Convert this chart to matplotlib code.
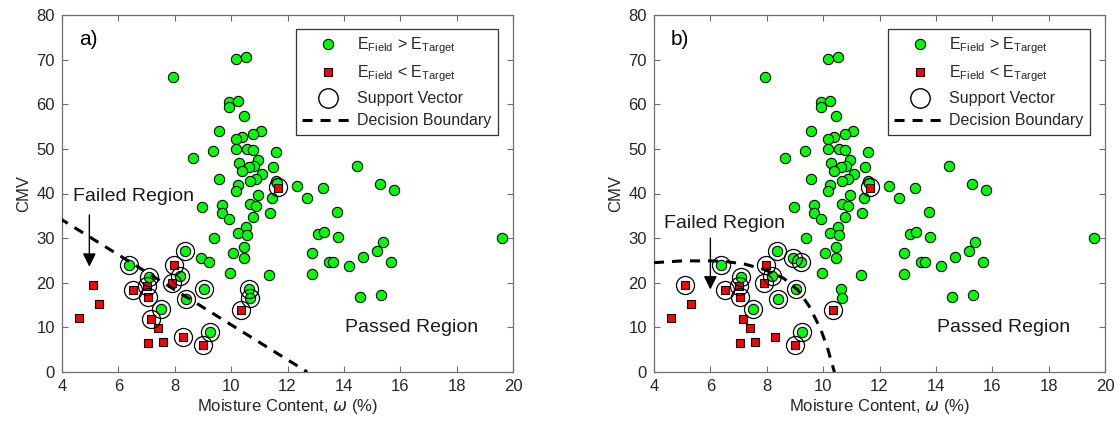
import matplotlib
matplotlib.use("Agg")
import matplotlib.pyplot as plt
from matplotlib.lines import Line2D

plt.rcParams['font.family'] = ['Liberation Sans', 'DejaVu Sans']
plt.rcParams['mathtext.fontset'] = 'dejavusans'

# ---------------- data ----------------
green_x = [7.95, 10.16, 10.52, 9.92, 10.25, 9.92, 10.47, 9.57, 11.06, 10.76,
           10.37, 10.17, 9.37, 8.66, 10.17, 10.57, 10.79, 11.58, 10.96, 10.28,
           10.82, 10.63, 11.47, 10.37, 11.08, 10.88, 9.57, 10.67, 10.26, 11.58,
           11.64, 12.32, 10.17, 10.96, 11.46, 12.68, 8.98, 9.66, 9.66, 9.92,
           10.67, 10.87, 11.38, 10.76, 10.53, 10.26, 10.57, 9.39, 10.47, 10.08,
           10.47, 8.93, 9.21, 9.96, 11.34,
           14.48, 13.27, 15.28, 15.78, 13.77, 13.07, 13.29, 13.78, 19.60, 15.40,
           15.19, 12.87, 14.69, 13.46, 13.62, 15.68, 14.17, 12.87, 14.57, 15.31,
           6.39, 7.07, 7.51, 8.19, 8.37, 8.40, 9.04, 9.25, 10.64, 10.67]
green_y = [66.0, 70.2, 70.6, 60.4, 60.8, 59.3, 57.4, 54.1, 54.0, 53.4,
           52.6, 52.2, 49.6, 47.9, 49.9, 50.0, 49.8, 49.3, 47.5, 46.9,
           46.2, 45.9, 45.9, 45.1, 44.4, 43.3, 43.3, 42.9, 41.9, 42.9,
           42.3, 41.7, 40.6, 39.6, 39.0, 39.0, 37.0, 37.4, 35.6, 34.2,
           37.7, 37.3, 35.7, 34.8, 32.4, 31.2, 30.6, 30.0, 27.9, 26.6,
           25.6, 25.6, 24.6, 22.1, 21.7,
           46.2, 41.3, 42.2, 40.7, 35.9, 30.9, 31.3, 30.3, 30.0, 29.1,
           27.2, 26.7, 25.7, 24.6, 24.6, 24.7, 23.8, 21.9, 16.9, 17.3,
           24.0, 21.2, 14.1, 21.6, 27.2, 16.4, 18.6, 8.9, 18.7, 16.5]

red_x = [5.11, 5.32, 4.59, 6.53, 7.00, 7.06, 7.15, 7.39, 7.04, 7.57,
         7.97, 7.89, 8.30, 8.99, 10.35, 11.68]
red_y = [19.5, 15.2, 12.2, 18.4, 19.3, 16.9, 11.8, 9.8, 6.4, 6.7,
         24.0, 20.0, 7.9, 6.1, 13.9, 41.2]

# support vectors, panel a
sv_a_x = [6.39, 7.07, 7.51, 8.19, 8.37, 8.40, 9.04, 9.25, 10.64, 10.67,
          6.53, 7.00, 7.06, 7.15, 7.97, 7.89, 8.30, 8.99, 10.35, 11.66]
sv_a_y = [24.0, 21.2, 14.1, 21.6, 27.2, 16.4, 18.6, 8.9, 18.7, 16.5,
          18.4, 19.3, 16.9, 11.8, 24.0, 20.0, 7.9, 6.1, 13.9, 41.5]
# support vectors, panel b
sv_b_x = [6.39, 7.07, 7.51, 8.19, 8.37, 8.40, 9.04, 9.25, 8.93, 9.21,
          5.11, 6.53, 7.00, 7.06, 7.97, 7.89, 8.99, 10.35, 11.66]
sv_b_y = [24.0, 21.2, 14.1, 21.6, 27.2, 16.4, 18.6, 8.9, 25.6, 24.6,
          19.5, 18.4, 19.3, 16.9, 24.0, 20.0, 6.1, 13.9, 41.5]

# decision boundaries
boundary_a_x = [3.9, 12.7]
boundary_a_y = [34.5, 0.0]
boundary_b_x = [4.0, 5.0, 6.0, 6.5, 7.2, 7.9, 8.6, 9.1, 9.5, 9.9, 10.15, 10.4]
boundary_b_y = [24.5, 24.9, 24.9, 24.8, 24.2, 23.0, 21.0, 18.4, 14.8, 9.8, 5.5, 0.0]

panel_labels = ['a)', 'b)']
x_ticks = [4, 6, 8, 10, 12, 14, 16, 18, 20]
y_ticks = [0, 10, 20, 30, 40, 50, 60, 70, 80]

# ---------------- plotting ----------------
W, H = 1116, 425
fig = plt.figure(figsize=(W / 100, H / 100), dpi=100)
ax_a = fig.add_axes([62 / W, 1 - 372 / H, 451 / W, 357 / H])
ax_b = fig.add_axes([654 / W, 1 - 372 / H, 451 / W, 357 / H])

txt = '#262626'
spine_c = '#6e6e6e'
green = '#00ff00'
red = '#ff0000'
dash = (0, (3.3, 2.6))

setups = [
    (ax_a, sv_a_x, sv_a_y, boundary_a_x, boundary_a_y, (6.53, 39.3), (4.97, 35.2), (4.97, 23.6)),
    (ax_b, sv_b_x, sv_b_y, boundary_b_x, boundary_b_y, (6.50, 33.2), (6.0, 30.0), (6.0, 18.5)),
]

for i, (ax, svx, svy, bx, by, ftxt, arr0, arr1) in enumerate(setups):
    ax.plot(green_x, green_y, linestyle='none', marker='o', ms=7.4,
            mfc=green, mec='black', mew=0.8, zorder=3)
    ax.plot(red_x, red_y, linestyle='none', marker='s', ms=5.4,
            mfc=red, mec='black', mew=0.8, zorder=3)
    ax.plot(svx, svy, linestyle='none', marker='o', ms=13, mfc='none',
            mec='black', mew=0.9, zorder=4)
    ax.plot(bx, by, color='black', lw=2.2, linestyle=dash, zorder=5,
            clip_on=True)

    ax.set_xlim(4, 20)
    ax.set_ylim(0, 80)
    ax.set_xticks(x_ticks)
    ax.set_yticks(y_ticks)
    ax.tick_params(direction='in', length=4, width=0.8, colors=spine_c,
                   labelcolor=txt, labelsize=12, top=True, right=True, pad=5)
    for s in ax.spines.values():
        s.set_color(spine_c)
        s.set_linewidth(0.9)
    ax.set_xlabel(r'Moisture Content, $\omega$ (%)', fontsize=12, color=txt,
                  labelpad=2)
    ax.set_ylabel('CMV', fontsize=12, color=txt, labelpad=4)

    ax.text(4.6, 74.6, panel_labels[i], fontsize=15, color='black',
            va='center', ha='left')
    ax.text(16.4, 9.9, 'Passed Region', fontsize=14, color='#1a1a1a',
            ha='center', va='center')
    ax.text(ftxt[0], ftxt[1], 'Failed Region', fontsize=14, color='#1a1a1a',
            ha='center', va='center')
    ax.annotate('', xy=arr1, xytext=arr0,
                arrowprops=dict(arrowstyle='-|>', color='black', lw=1,
                                mutation_scale=20, shrinkA=0, shrinkB=0))

    handles = [
        Line2D([], [], linestyle='none', marker='o', ms=7.4, mfc=green,
               mec='black', mew=0.8),
        Line2D([], [], linestyle='none', marker='s', ms=5.4, mfc=red,
               mec='black', mew=0.8),
        Line2D([], [], linestyle='none', marker='o', ms=14, mfc='none',
               mec='black', mew=1.0),
        Line2D([], [], color='black', lw=2.2, linestyle=dash),
    ]
    labels = [r'E$_{\mathregular{Field}}$ > E$_{\mathregular{Target}}$',
              r'E$_{\mathregular{Field}}$ < E$_{\mathregular{Target}}$',
              'Support Vector', 'Decision Boundary']
    leg = ax.legend(handles, labels, loc='upper right',
                    bbox_to_anchor=(0.967, 0.96), borderaxespad=0,
                    fontsize=11.5, handlelength=3.25, handletextpad=0.2,
                    borderpad=0.4, labelspacing=0.45, fancybox=False,
                    framealpha=1, edgecolor='#333333')
    leg.get_frame().set_linewidth(0.9)
    for t in leg.get_texts():
        t.set_color(txt)

fig.savefig('out.png', dpi=100)
